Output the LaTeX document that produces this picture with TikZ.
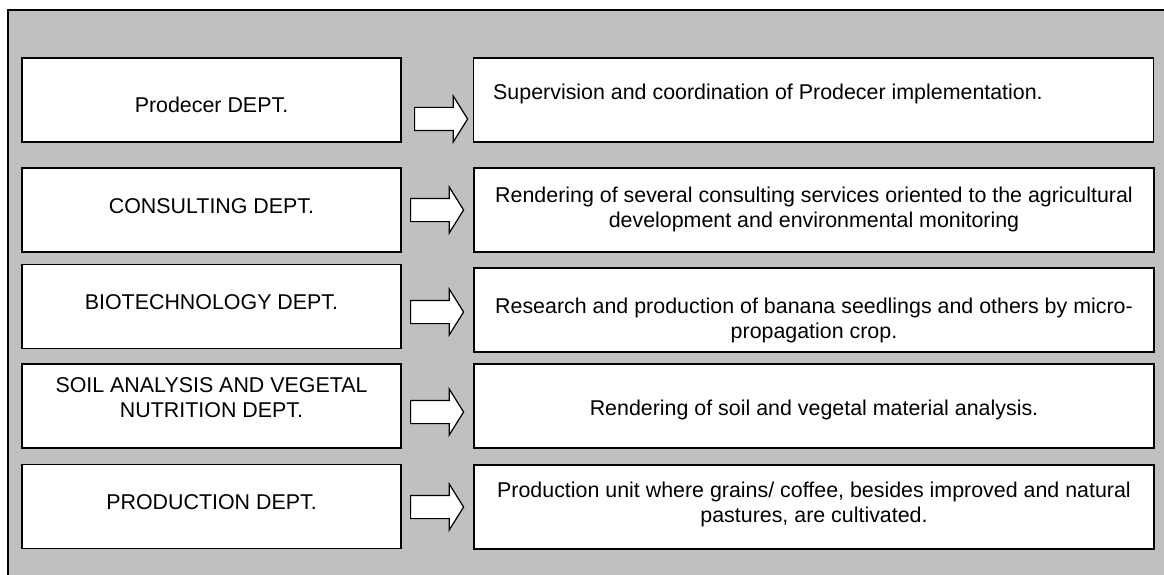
\documentclass[tikz,border=0pt]{standalone}
\usepackage{fontspec}
\setmainfont{Liberation Sans}
\usepackage{xcolor}
\usepackage{tikz}
\usetikzlibrary{shapes.arrows}

\definecolor{panelgray}{RGB}{192,192,192}

\begin{document}
\begin{tikzpicture}
[x=1pt, y=-1pt]
\tikzset{
	dept/.style = {draw, fill = white, line width = 1.7pt, minimum width = 379pt, minimum height = 84pt, inner sep = 0},
	task/.style = {draw, fill = white, line width = 1.7pt, minimum width = 680pt, minimum height = 84pt, inner sep = 0},
	txt/.style = {anchor = north, align = center, inner sep = 0, font = \fontsize{21.4}{25}\selectfont},
	arr/.style = {single arrow, draw, fill = white, line width = 1.2pt, anchor = tail, inner xsep = 0, inner ysep = 11pt,
		minimum height = 53pt, single arrow head extend = 11.5pt, single arrow tip angle = 116, single arrow head indent = 0}
}

\useasboundingbox (0,0) rectangle (1164,575);
\clip (0,0) rectangle (1164,575);
\draw[fill = panelgray, line width = 1.5pt] (8,10) rectangle (1180,600);

\node(l1) [dept] at (211.5,100) {};
\node(l2) [dept] at (211.5,210) {};
\node(l3) [dept] at (211.5,306.5) {};
\node(l4) [dept] at (211.5,406) {};
\node(l5) [dept] at (211.5,506.5) {};

\node(r1) [task] at (813.5,100) {};
\node(r2) [task] at (814,210) {};
\node(r3) [task] at (814,310) {};
\node(r4) [task] at (814,406) {};
\node(r5) [task] at (814,507) {};

\node(a1) [arr] at (414,119) {};
\node(a2) [arr] at (410,210) {};
\node(a3) [arr] at (410,312) {};
\node(a4) [arr] at (410,412) {};
\node(a5) [arr] at (410,507) {};

\node(t1) [txt] at (211.5,97) {Prodecer DEPT.};
\node(t2) [txt] at (211.5,198) {CONSULTING DEPT.};
\node(t3) [txt] at (211.5,294) {BIOTECHNOLOGY DEPT.};
\node(t4) [txt] at (211.5,377) {SOIL ANALYSIS AND VEGETAL\\NUTRITION DEPT.};
\node(t5) [txt] at (211.5,494) {PRODUCTION DEPT.};

\node(s1) [txt, anchor = north west] at (493,84) {Supervision and coordination of Prodecer implementation.};
\node(s2) [txt] at (814,187) {Rendering of several consulting services oriented to the agricultural\\development and environmental monitoring};
\node(s3) [txt] at (814,298) {Research and production of banana seedlings and others by micro-\\propagation crop.};
\node(s4) [txt] at (814,400) {Rendering of soil and vegetal material analysis.};
\node(s5) [txt] at (814,482) {Production unit where grains/ coffee, besides improved and natural\\pastures, are cultivated.};

\end{tikzpicture}
\end{document}
